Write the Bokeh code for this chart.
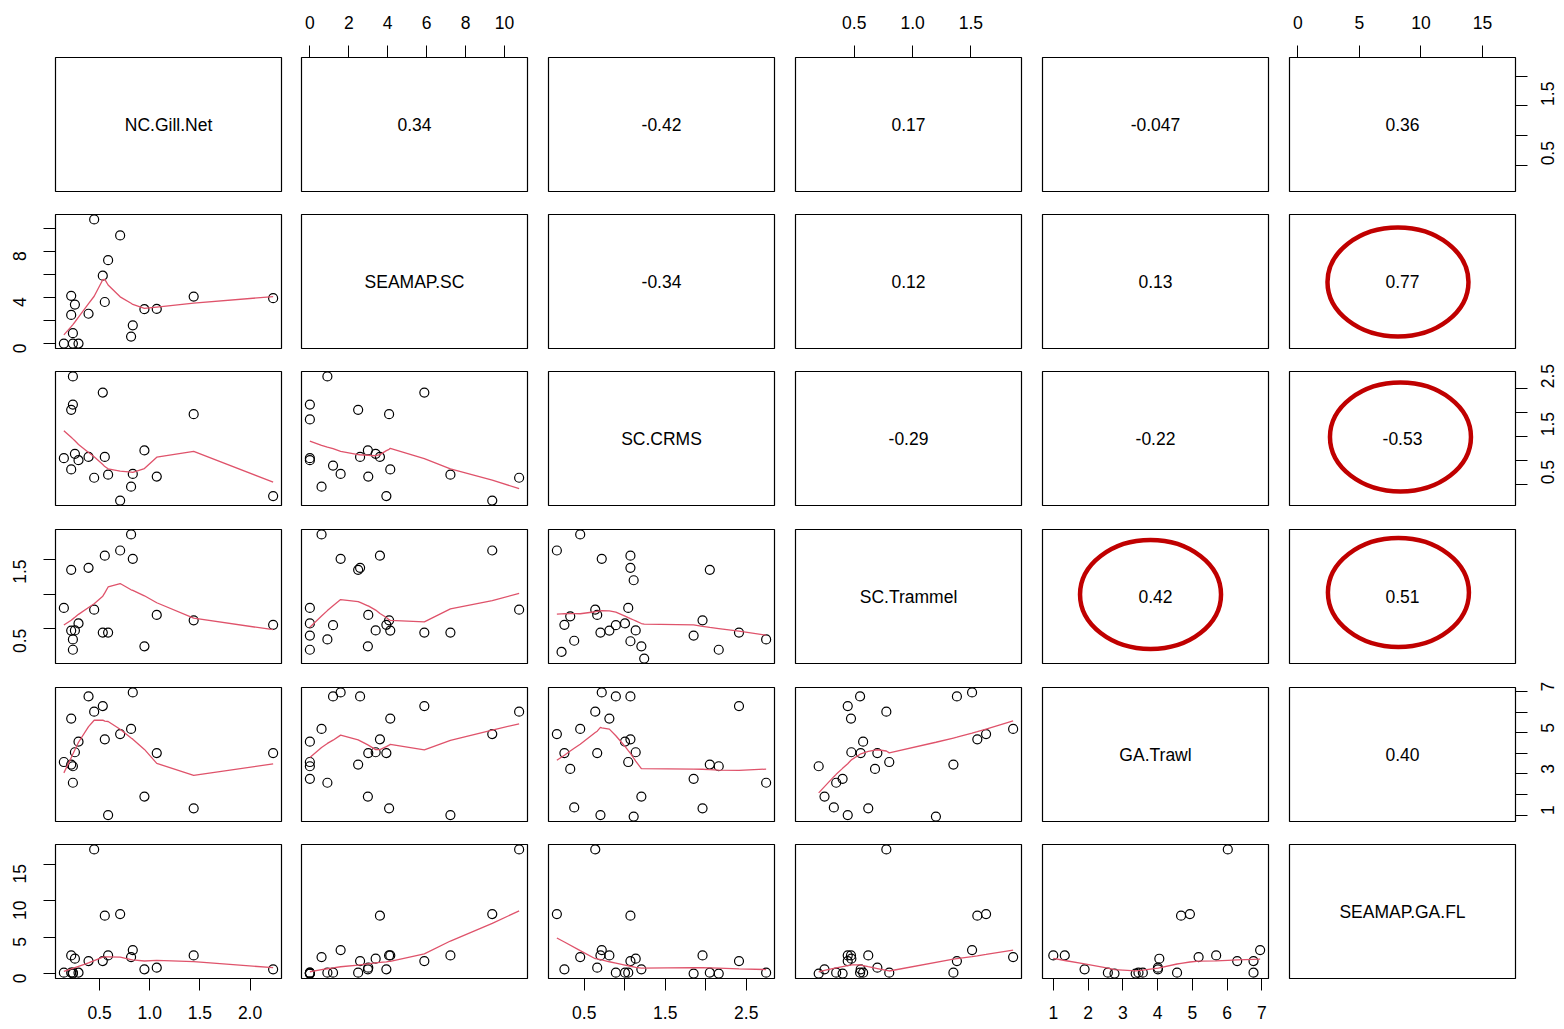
import math
import numpy as np
from bokeh.plotting import figure
from bokeh.layouts import gridplot
from bokeh.models import Range1d, LinearAxis, FixedTicker
from bokeh.embed import file_html
from bokeh.resources import INLINE

nan = float("nan")

# ---------------- data ----------------
variables = ["NC.Gill.Net", "SEAMAP.SC", "SC.CRMS", "SC.Trammel", "GA.Trawl", "SEAMAP.GA.FL"]

nc_gill_net = [nan, nan, nan, nan, nan, nan, nan, nan,
               0.705, 0.814, 0.831, 0.552, 0.390, 0.217, 0.446, 0.144, 1.070, 2.230,
               0.290, 0.217, 0.585, 0.254, 1.438, 0.532, 0.234, 0.947, 0.234]
seamap_sc = [nan, nan, nan, nan, nan, nan, 0.0, 1.19,
             9.37, 0.60, 1.58, 3.60, 2.58, 2.48, 10.75, 0.0, 3.00, 3.93,
             0.0, 4.13, 7.22, 3.38, 4.07, 5.88, 0.90, 2.98, 0.0]
sc_crms = [0.220, 1.240, 1.070, 1.110, 0.327, 0.376, 1.850, 0.890,
           0.162, 0.450, 0.716, 1.070, 1.070, 2.050, 0.636, 1.043, 0.660, 0.255,
           1.003, 0.810, 0.700, 1.135, 1.960, 2.410, 2.745, 1.205, 2.160]
sc_trammel = [0.164, 0.068, 0.318, 1.200, 0.678, 0.325, 0.400, 0.550,
              1.630, 1.862, 1.510, 1.555, 1.380, 1.350, 0.775, 0.800, 0.698, 0.555,
              0.576, 0.472, 0.444, 0.475, 0.620, 0.444, 0.345, 0.245, 0.195]
ga_trawl = [nan, nan, nan, 0.93, 3.24, 1.37, 2.76, 6.76,
            4.93, 5.18, 6.95, 4.675, 6.76, 3.45, 6.02, 3.575, 4.01, 4.01,
            4.56, 5.685, 1.00, 4.05, 1.33, 6.29, 2.57, 1.90, 3.37]
seamap_ga_fl = [nan, nan, nan, nan, nan, nan, 0.0, 0.12,
                8.15, 2.25, 3.21, 7.93, 1.71, 0.12, 17.0, 0.12, 0.80, 0.58,
                0.12, 2.48, 2.48, 2.03, 2.48, 1.71, 0.12, 0.58, 0.0]

# correlation texts of the upper panels, row by row
corr_text = ["0.34", "-0.42", "0.17", "-0.047", "0.36",
             "-0.34", "0.12", "0.13", "0.77",
             "-0.29", "-0.22", "-0.53",
             "0.42", "0.51",
             "0.40"]

# axis ticks per variable and the labels R printed on each side
ticks = [[0.5, 1.0, 1.5, 2.0], [0, 2, 4, 6, 8, 10], [0.5, 1.0, 1.5, 2.0, 2.5],
         [0.5, 1.0, 1.5], [1, 2, 3, 4, 5, 6, 7], [0, 5, 10, 15]]
tick_text_outer = [["0.5", "1.0", "1.5", "2.0"], ["0", "2", "4", "6", "8", "10"],
                   ["0.5", "", "1.5", "", "2.5"], ["0.5", "1.0", "1.5"],
                   ["1", "2", "3", "4", "5", "6", "7"], ["0", "5", "10", "15"]]
tick_text_side = [["0.5", "", "1.5", ""], ["0", "", "4", "", "8", ""],
                  ["0.5", "", "1.5", "", "2.5"], ["0.5", "", "1.5"],
                  ["1", "", "3", "", "5", "", "7"], ["0", "5", "10", "15"]]

data = [nc_gill_net, seamap_sc, sc_crms, sc_trammel, ga_trawl, seamap_ga_fl]

# ---------------- styles / annotation placement ----------------
FONT = "Liberation Sans"
FS = "17.5px"
SMOOTH = "#DF536B"
RING = "#C00000"
rings = {(1, 5): (0.480, 0.496), (2, 5): (0.491, 0.511), (3, 4): (0.478, 0.515), (3, 5): (0.482, 0.530)}
STANDOFF = {"above": 17, "below": 15, "left": 24, "right": 20}


# ---------------- lowess (port of R's clowess) ----------------
def _lowest(x, y, n, xs, nleft, nright, w, userw, rw):
    rng = x[n - 1] - x[0]
    h = max(xs - x[nleft], x[nright] - xs)
    h9, h1 = 0.999 * h, 0.001 * h
    a = 0.0
    j = nleft
    while j < n:
        w[j] = 0.0
        r = abs(x[j] - xs)
        if r <= h9:
            w[j] = 1.0 if r <= h1 else (1 - (r / h) ** 3) ** 3
            if userw:
                w[j] *= rw[j]
            a += w[j]
        elif x[j] > xs:
            break
        j += 1
    nrt = j - 1
    if a <= 0:
        return None
    for k in range(nleft, nrt + 1):
        w[k] /= a
    if h > 0:
        a = sum(w[k] * x[k] for k in range(nleft, nrt + 1))
        b = xs - a
        c = sum(w[k] * (x[k] - a) ** 2 for k in range(nleft, nrt + 1))
        if math.sqrt(c) > 0.001 * rng:
            b /= c
            for k in range(nleft, nrt + 1):
                w[k] *= (b * (x[k] - a) + 1.0)
    return sum(w[k] * y[k] for k in range(nleft, nrt + 1))


def lowess(xin, yin, f=2 / 3, nsteps=3):
    o = np.argsort(np.asarray(xin), kind="stable")
    x = [float(xin[k]) for k in o]
    y = [float(yin[k]) for k in o]
    n = len(x)
    delta = 0.01 * (x[-1] - x[0])
    ys = [0.0] * n
    rw = [0.0] * n
    res = [0.0] * n
    ns = max(2, min(n, int(f * n + 1e-7)))
    it = 1
    while it <= nsteps + 1:
        nleft, nright, last, i = 0, ns - 1, -1, 0
        while True:
            if nright < n - 1:
                d1 = x[i] - x[nleft]
                d2 = x[nright + 1] - x[i]
                if d1 > d2:
                    nleft += 1
                    nright += 1
                    continue
            val = _lowest(x, y, n, x[i], nleft, nright, res, it > 1, rw)
            ys[i] = val if val is not None else y[i]
            if last < i - 1:
                denom = x[i] - x[last]
                for j in range(last + 1, i):
                    alpha = (x[j] - x[last]) / denom
                    ys[j] = alpha * ys[i] + (1 - alpha) * ys[last]
            last = i
            cut = x[last] + delta
            i = last + 1
            while i < n:
                if x[i] > cut:
                    break
                if x[i] == x[last]:
                    ys[i] = ys[last]
                    last = i
                i += 1
            i = max(last + 1, i - 1)
            if last >= n - 1:
                break
        res = [y[k] - ys[k] for k in range(n)]
        sc = sum(abs(r) for r in res) / n
        if it > nsteps:
            break
        s = sorted(abs(r) for r in res)
        m1 = n // 2
        if n % 2 == 0:
            cmad = 3 * (s[m1] + s[n - m1 - 1])
        else:
            cmad = 6 * s[m1]
        if cmad < 1e-7 * sc:
            break
        c9, c1 = 0.999 * cmad, 0.001 * cmad
        for k in range(n):
            r = abs(res[k])
            rw[k] = 1.0 if r <= c1 else ((1 - (r / cmad) ** 2) ** 2 if r <= c9 else 0.0)
        it += 1
    return x, ys


def lims(v):
    a = np.asarray(v, dtype=float)
    a = a[np.isfinite(a)]
    lo, hi = a.min(), a.max()
    d = hi - lo
    return lo - 0.04 * d, hi + 0.04 * d


LIM = [lims(v) for v in data]

LB = [55, 10, 10, 10, 10, 10]
RB = [10, 11, 11, 11, 11, 49]
TB = [57, 12, 12, 12, 12, 12]
BB = [11, 11, 12, 12, 11, 51]


def make_axis(k, labels, side):
    ax = LinearAxis(ticker=FixedTicker(ticks=ticks[k], minor_ticks=[]))
    ax.major_label_overrides = {float(t): s for t, s in zip(ticks[k], labels)}
    ax.axis_line_color = None
    ax.major_tick_out = 12
    ax.major_tick_in = 0
    ax.major_tick_line_color = "black"
    ax.major_tick_line_width = 1
    ax.minor_tick_line_color = None
    ax.major_label_standoff = STANDOFF[side]
    ax.major_label_text_font = FONT
    ax.major_label_text_font_size = FS
    ax.major_label_text_color = "black"
    if side in ("left", "right"):
        ax.major_label_orientation = math.pi / 2
    return ax


rows = []
ci = 0
corr_pos = {}
for i in range(6):
    for j in range(i + 1, 6):
        corr_pos[(i, j)] = corr_text[ci]
        ci += 1

for i in range(6):
    row = []
    for j in range(6):
        p = figure(frame_width=226, frame_height=134,
                   min_border_left=LB[j], min_border_right=RB[j],
                   min_border_top=TB[i], min_border_bottom=BB[i],
                   x_range=Range1d(*LIM[j]), y_range=Range1d(*LIM[i]),
                   x_axis_location=None, y_axis_location=None,
                   toolbar_location=None, output_backend="svg")
        p.grid.grid_line_color = None
        p.outline_line_color = "black"
        p.outline_line_width = 1.2
        p.background_fill_color = "white"
        p.border_fill_color = "white"
        cx = (LIM[j][0] + LIM[j][1]) / 2
        cy = (LIM[i][0] + LIM[i][1]) / 2
        if i == j:
            p.text(x=[cx], y=[cy], text=[variables[i]], text_align="center",
                   text_baseline="middle", text_font={"value": FONT},
                   text_font_size={"value": FS}, text_color="black")
        elif j > i:
            p.text(x=[cx], y=[cy], text=[corr_pos[(i, j)]], text_align="center",
                   text_baseline="middle", text_font={"value": FONT},
                   text_font_size={"value": FS}, text_color="black")
            if (i, j) in rings:
                fx, fy = rings[(i, j)]
                ex = LIM[j][0] + fx * (LIM[j][1] - LIM[j][0])
                ey = LIM[i][0] + fy * (LIM[i][1] - LIM[i][0])
                p.ellipse(x=[ex], y=[ey], width=141, height=109,
                          width_units="screen", height_units="screen",
                          fill_color=None, line_color=RING, line_width=4.5)
        else:
            xv = np.asarray(data[j], dtype=float)
            yv = np.asarray(data[i], dtype=float)
            ok = np.isfinite(xv) & np.isfinite(yv)
            xs, ys = xv[ok], yv[ok]
            p.scatter(x=list(xs), y=list(ys), marker="circle", size=9,
                      fill_color=None, line_color="black", line_width=1.2)
            lx, ly = lowess(xs, ys)
            p.line(x=lx, y=ly, line_color=SMOOTH, line_width=1.3)
        if i == 0 and j % 2 == 1:
            p.add_layout(make_axis(j, tick_text_outer[j], "above"), "above")
        if i == 5 and j % 2 == 0:
            p.add_layout(make_axis(j, tick_text_outer[j], "below"), "below")
        if j == 0 and i % 2 == 1:
            p.add_layout(make_axis(i, tick_text_side[i], "left"), "left")
        if j == 5 and i % 2 == 0:
            p.add_layout(make_axis(i, tick_text_side[i], "right"), "right")
        row.append(p)
    rows.append(row)

grid = gridplot(rows, toolbar_location=None)
open("out.html", "w").write(file_html(grid, INLINE))
